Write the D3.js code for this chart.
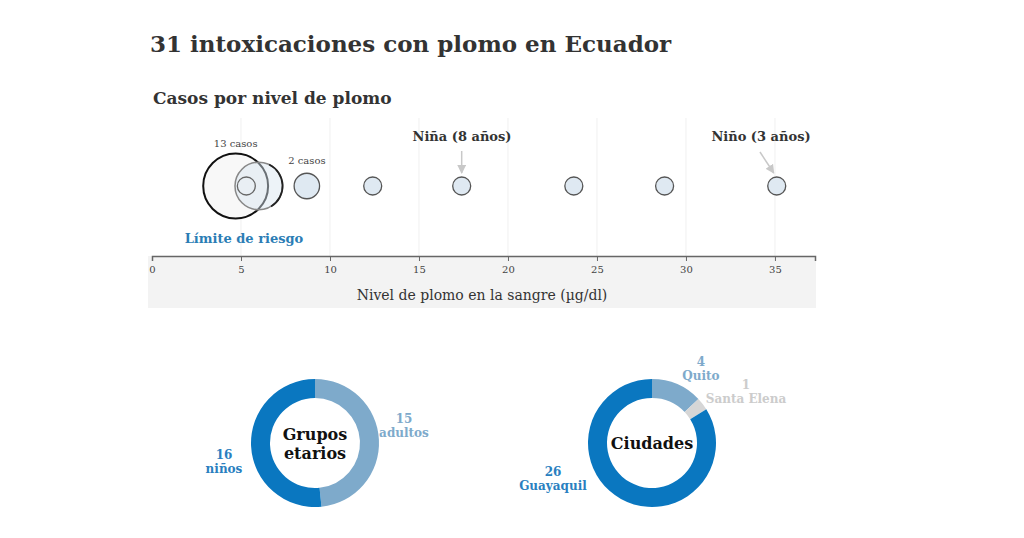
<!DOCTYPE html>
<html>
<head>
<meta charset="utf-8">
<script src="https://cdn.jsdelivr.net/npm/d3@7"></script>
<style>
  body { margin: 0; background: #fff; }
  text { font-family: "DejaVu Serif", Georgia, serif; }
</style>
</head>
<body>
<div id="chart"></div>
<script>
// blood lead levels (ug/dl) and number of cases at each level
var levels = [4.7, 6.0, 5.3, 8.7, 12.4, 17.4, 23.7, 28.8, 35.1];
var cases  = [13, 7, 1, 2, 1, 1, 1, 1, 1];
var xTicks = [0, 5, 10, 15, 20, 25, 30, 35];

// donuts
var ageLabels = ["adultos", "niños"];
var ageValues = [15, 16];
var cityLabels = ["Quito", "Santa Elena", "Guayaquil"];
var cityValues = [4, 1, 26];

var svg = d3.select("#chart").append("svg")
  .attr("width", 1024)
  .attr("height", 538);

svg.append("text")
  .attr("x", 150).attr("y", 52)
  .attr("font-size", 23).attr("font-weight", "bold")
  .attr("fill", "#333")
  .text("31 intoxicaciones con plomo en Ecuador");

svg.append("text")
  .attr("x", 153).attr("y", 104)
  .attr("font-size", 17).attr("font-weight", "bold")
  .attr("fill", "#333")
  .text("Casos por nivel de plomo");

//////////////////// bubble strip ////////////////////
var x = d3.scaleLinear().domain([0, 37.25]).range([152, 815]);
var r = d3.scaleSqrt().domain([0, 1]).range([0, 9]);
var cy = 186, axisY = 256;

// gray band under axis
svg.append("rect")
  .attr("x", 148).attr("y", axisY)
  .attr("width", 668).attr("height", 52)
  .attr("fill", "#f3f3f3");

// grid
svg.append("g").selectAll("line")
  .data(xTicks.slice(1))
  .join("line")
  .attr("x1", d => x(d)).attr("x2", d => x(d))
  .attr("y1", 118).attr("y2", axisY)
  .attr("stroke", "#f0f0f0").attr("stroke-width", 1);

var xAxis = d3.axisBottom(x).tickValues(xTicks).tickSize(5).tickSizeOuter(5);
var ax = svg.append("g")
  .attr("transform", "translate(0," + axisY + ")")
  .call(xAxis);
ax.select(".domain").attr("stroke", "#666").attr("stroke-width", 1.5);
ax.selectAll(".tick line").attr("stroke", "#666");
ax.selectAll(".tick text")
  .attr("font-family", "DejaVu Serif, serif")
  .attr("font-size", 10).attr("fill", "#444").attr("dy", "0.9em");

svg.append("text")
  .attr("x", 482).attr("y", 300)
  .attr("text-anchor", "middle")
  .attr("font-size", 14).attr("fill", "#333")
  .text("Nivel de plomo en la sangre (µg/dl)");

var pts = levels.map((v, i) => ({ v: v, n: cases[i], i: i }));

svg.append("g").selectAll("circle")
  .data(pts)
  .join("circle")
  .attr("cx", d => x(d.v))
  .attr("cy", cy)
  .attr("r", d => r(d.n))
  .attr("fill", d => d.i === 0 ? "#f8f8f8" : d.i === 1 ? "rgba(215,228,240,0.45)" : d.i === 2 ? "none" : "#dfe9f2")
  .attr("stroke", d => d.i === 0 ? "#111" : d.i === 1 ? "#888" : d.i === 2 ? "#666" : "#555")
  .attr("stroke-width", d => d.i === 0 ? 2 : d.i === 1 ? 1.5 : 1.3);

// right edge of middle circle drawn darker
svg.append("path")
  .attr("d", d3.arc()({ innerRadius: r(cases[1]), outerRadius: r(cases[1]), startAngle: 0.45, endAngle: 2.6 }))
  .attr("transform", "translate(" + x(levels[1]) + "," + cy + ")")
  .attr("stroke", "#222").attr("stroke-width", 1.8).attr("fill", "none");

svg.append("text")
  .attr("x", x(levels[0])).attr("y", cy - r(cases[0]) - 7)
  .attr("text-anchor", "middle").attr("font-size", 10).attr("fill", "#444")
  .text(cases[0] + " casos");

svg.append("text")
  .attr("x", x(levels[3])).attr("y", cy - r(cases[3]) - 9)
  .attr("text-anchor", "middle").attr("font-size", 10).attr("fill", "#444")
  .text(cases[3] + " casos");

svg.append("text")
  .attr("x", 244).attr("y", 243)
  .attr("text-anchor", "middle")
  .attr("font-size", 13).attr("font-weight", "bold").attr("fill", "#2b7db5")
  .text("Límite de riesgo");

// annotations with arrows
svg.append("defs").append("marker")
  .attr("id", "arr").attr("viewBox", "0 0 10 10")
  .attr("refX", 9).attr("refY", 5)
  .attr("markerWidth", 6).attr("markerHeight", 6)
  .attr("orient", "auto")
  .append("path").attr("d", "M0,0L10,5L0,10z").attr("fill", "#c8c8c8");

function annotate(label, v, tx, ty, sx, sy) {
  svg.append("text")
    .attr("x", tx).attr("y", ty)
    .attr("text-anchor", "middle")
    .attr("font-size", 13).attr("font-weight", "bold").attr("fill", "#333")
    .text(label);
  svg.append("line")
    .attr("x1", sx).attr("y1", sy)
    .attr("x2", x(v) - (sx < x(v) ? 3 : 0)).attr("y2", cy - 13)
    .attr("stroke", "#c8c8c8").attr("stroke-width", 1.5)
    .attr("marker-end", "url(#arr)");
}
annotate("Niña (8 años)", levels[5], 462, 141, x(levels[5]), 151);
annotate("Niño (3 años)", levels[8], 761, 141, 760, 152);

//////////////////// donuts ////////////////////
var pie = d3.pie().sort(null).value(d => d);
var arc = d3.arc().innerRadius(45).outerRadius(64);

function donut(cx, values, colors, title) {
  var g = svg.append("g").attr("transform", "translate(" + cx + ",443)");
  g.selectAll("path")
    .data(pie(values))
    .join("path")
    .attr("d", arc)
    .attr("fill", (d, i) => colors[i]);
  var t = g.append("text")
    .attr("text-anchor", "middle")
    .attr("font-size", 16).attr("font-weight", "bold").attr("fill", "#111");
  title.forEach((s, i) => {
    t.append("tspan").attr("x", 0)
      .attr("y", (i - (title.length - 1) / 2) * 19 + 6)
      .text(s);
  });
  return g;
}

function label(xp, yp, num, name, color, anchor) {
  var t = svg.append("text")
    .attr("text-anchor", anchor || "middle")
    .attr("font-size", 12).attr("font-weight", "bold").attr("fill", color);
  t.append("tspan").attr("x", xp).attr("y", yp).text(num);
  t.append("tspan").attr("x", xp).attr("y", yp + 14).text(name);
}

var ageColors = ["#7eaacb", "#0a77c0"];
donut(315, ageValues, ageColors, ["Grupos", "etarios"]);
label(404, 423, ageValues[0], ageLabels[0], "#7eaacb");
label(224, 459, ageValues[1], ageLabels[1], "#2a7fc0");

var cityColors = ["#7eaacb", "#d6d6d6", "#0a77c0"];
donut(652, cityValues, cityColors, ["Ciudades"]);
label(701, 366, cityValues[0], cityLabels[0], "#7eaacb");
label(746, 389, cityValues[1], cityLabels[1], "#cccccc");
label(553, 476, cityValues[2], cityLabels[2], "#2a7fc0");
</script>
</body>
</html>
